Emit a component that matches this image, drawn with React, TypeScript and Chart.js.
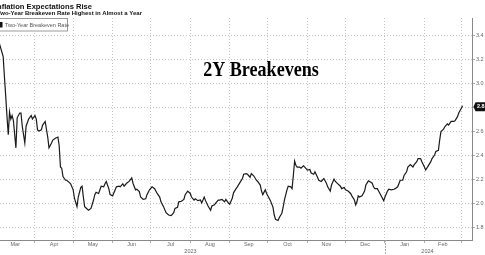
import React, { useEffect, useRef } from "react";
import { Chart, registerables } from "chart.js";

Chart.register(...registerables);

// Days since 2023-03-01
const DAYS = [3,6,7,8,9,10,11,12,13,14,16,17,19,20,21,23,24,26,28,29,31,32,33,34,36,37,39,41,42,44,45,47,49,50,51,52,53,55,56,58,59,61,62,64,65,67,68,69,70,73,75,77,78,79,81,83,85,86,87,89,90,92,94,95,97,98,100,101,103,105,107,108,110,111,113,114,116,118,119,121,123,125,127,129,130,132,134,136,138,140,141,143,144,146,148,149,151,153,154,156,157,159,161,162,164,165,167,169,170,172,173,175,176,178,180,181,183,184,186,187,189,190,192,194,195,197,198,200,201,203,205,206,208,209,210,212,213,215,216,218,219,220,222,223,225,226,227,229,230,232,233,234,235,236,237,239,240,242,243,245,247,248,250,251,253,254,256,258,260,261,263,264,266,267,269,271,272,274,275,277,279,280,282,283,284,285,286,288,290,291,293,294,296,297,298,300,301,303,305,306,308,309,311,313,314,316,318,320,321,323,324,326,328,329,331,332,334,335,337,338,340,342,343,345,346,348,349,350,352,353,355,356,358,360,361,363,364,366,367];

const VALUES = [3.33,3.22,3.05,2.89,2.72,2.57,2.76,2.70,2.73,2.69,2.46,2.71,2.75,2.75,2.64,2.50,2.64,2.70,2.73,2.70,2.73,2.70,2.61,2.60,2.61,2.65,2.68,2.55,2.46,2.50,2.525,2.54,2.55,2.48,2.30,2.29,2.22,2.19,2.19,2.17,2.16,2.11,2.04,1.97,2.05,2.13,2.14,2.05,1.97,1.94,1.955,2.025,2.07,2.09,2.08,2.14,2.135,2.16,2.18,2.12,2.07,2.06,2.11,2.135,2.14,2.135,2.16,2.14,2.165,2.18,2.21,2.165,2.11,2.115,2.095,2.05,2.03,2.035,2.07,2.11,2.135,2.12,2.08,2.05,2.01,1.97,1.92,1.90,1.895,1.92,1.955,1.965,2.01,2.015,2.03,2.07,2.10,2.08,2.05,2.025,2.035,2.02,2.025,2.00,2.05,2.02,1.975,1.94,1.975,1.985,2.00,2.025,2.025,2.03,2.01,2.03,2.00,1.99,2.04,2.085,2.12,2.135,2.17,2.205,2.24,2.245,2.24,2.215,2.245,2.225,2.19,2.18,2.15,2.10,2.07,2.11,2.08,2.04,2.02,1.965,1.90,1.865,1.855,1.88,1.915,1.965,2.025,2.11,2.14,2.135,2.12,2.23,2.35,2.315,2.30,2.30,2.29,2.31,2.30,2.275,2.28,2.25,2.24,2.26,2.215,2.19,2.18,2.205,2.165,2.135,2.10,2.15,2.20,2.18,2.16,2.14,2.12,2.13,2.11,2.10,2.08,2.06,2.025,1.985,2.01,2.06,2.05,2.06,2.10,2.15,2.185,2.18,2.165,2.135,2.12,2.12,2.10,2.06,2.02,2.05,2.10,2.115,2.11,2.115,2.12,2.135,2.19,2.19,2.23,2.26,2.30,2.32,2.30,2.32,2.345,2.37,2.37,2.345,2.30,2.275,2.31,2.345,2.37,2.40,2.43,2.44,2.525,2.595,2.615,2.635,2.66,2.65,2.68,2.68,2.685,2.72,2.75,2.79,2.81];

// Month boundaries (days since 2023-03-01): Apr 1 ... Mar 1 2024
const MONTH_STARTS = [31, 61, 92, 122, 153, 184, 214, 245, 275, 306, 337, 366];
const MONTH_LABELS = ["Mar", "Apr", "May", "Jun", "Jul", "Aug", "Sep", "Oct", "Nov", "Dec", "Jan", "Feb"];
const YEAR_LABELS = ["2023", "2024"];
const YEAR_BOUNDARY = 306;
const Y_TICKS = [1.8, 2.0, 2.2, 2.4, 2.6, 2.8, 3.0, 3.2, 3.4];

const TITLE = "Inflation Expectations Rise";
const SUBTITLE = "Two-Year Breakeven Rate Highest in Almost a Year";
const SERIES_NAME = "Two-Year Breakeven Rate";
const OVERLAY_TEXT = "2Y Breakevens";
const LAST_LABEL = "2.8";

const X_MIN = 3.5;
const X_MAX = 374.4;
const Y_MIN = 1.692;
const Y_MAX = 3.542;

const SANS = '"Liberation Sans", Arial, sans-serif';

const overlayPlugin = {
  id: "overlay",
  afterDraw(chart: any) {
    const ctx = chart.ctx as CanvasRenderingContext2D;
    const { left, right, bottom } = chart.chartArea;
    const xs = chart.scales.x;
    const ys = chart.scales.y;
    ctx.save();

    // Title & subtitle (cropped on the left like the reference)
    ctx.fillStyle = "#111";
    ctx.textAlign = "right";
    ctx.textBaseline = "alphabetic";
    ctx.font = `bold 7.6px ${SANS}`;
    ctx.fillText(TITLE, 92, 8.5);
    ctx.font = `bold 6px ${SANS}`;
    ctx.fillText(SUBTITLE, 142, 15);

    // Legend box
    ctx.fillStyle = "#fff";
    ctx.fillRect(-2, 18.5, 69.5, 12.5);
    ctx.strokeStyle = "#999";
    ctx.lineWidth = 1;
    ctx.strokeRect(-2, 18.5, 69.5, 12.5);
    ctx.fillStyle = "#111";
    ctx.fillRect(-2, 22, 4.5, 5.5);
    ctx.fillStyle = "#555";
    ctx.font = `5.5px ${SANS}`;
    ctx.textAlign = "left";
    ctx.textBaseline = "middle";
    ctx.fillText(SERIES_NAME, 5, 25);

    // Big overlay text (narrow serif)
    ctx.save();
    ctx.translate(261, 76);
    ctx.scale(0.86, 1);
    ctx.fillStyle = "#000";
    ctx.font = `bold 21px "Liberation Serif", "Times New Roman", serif`;
    ctx.textAlign = "center";
    ctx.textBaseline = "alphabetic";
    ctx.fillText(OVERLAY_TEXT, 0, 0);
    ctx.restore();

    // Year labels and separator
    const sepX = xs.getPixelForValue(YEAR_BOUNDARY);
    ctx.fillStyle = "#666";
    ctx.font = `5.5px ${SANS}`;
    ctx.textAlign = "center";
    ctx.textBaseline = "middle";
    ctx.fillText(YEAR_LABELS[0], (left + sepX) / 2 - 2, 251);
    ctx.fillText(YEAR_LABELS[1], (sepX + right) / 2 - 1, 251);
    ctx.strokeStyle = "#aaa";
    ctx.setLineDash([2, 1]);
    ctx.beginPath();
    ctx.moveTo(Math.round(sepX) + 0.5, bottom);
    ctx.lineTo(Math.round(sepX) + 0.5, 255);
    ctx.stroke();
    ctx.setLineDash([]);

    // Last value marker
    const lastY = ys.getPixelForValue(VALUES[VALUES.length - 1]);
    ctx.fillStyle = "#111";
    ctx.beginPath();
    const bx = right + 3.5, bw = 14, bh = 9;
    const by = lastY - bh / 2 + 1;
    ctx.moveTo(bx - 2, by + bh / 2);
    ctx.lineTo(bx, by);
    ctx.lineTo(bx + bw, by);
    ctx.lineTo(bx + bw, by + bh);
    ctx.lineTo(bx, by + bh);
    ctx.closePath();
    ctx.fill();
    ctx.fillStyle = "#fff";
    ctx.font = `bold 5.5px ${SANS}`;
    ctx.textAlign = "left";
    ctx.textBaseline = "middle";
    ctx.fillText(LAST_LABEL, bx + 1.5, by + bh / 2);

    ctx.restore();
  },
};

// Draw solid axis lines on top (border.dash is used for the dotted grid lines)
const axisLinePlugin = {
  id: "axisLines",
  afterDatasetsDraw(chart: any) {
    const ctx = chart.ctx as CanvasRenderingContext2D;
    const { left, right, top, bottom } = chart.chartArea;
    ctx.save();
    ctx.strokeStyle = "#8a8a8a";
    ctx.lineWidth = 1;
    ctx.setLineDash([]);
    ctx.beginPath();
    ctx.moveTo(left, Math.round(bottom) + 0.5);
    ctx.lineTo(right, Math.round(bottom) + 0.5);
    ctx.moveTo(Math.round(right) + 0.5, top);
    ctx.lineTo(Math.round(right) + 0.5, bottom + 1);
    ctx.stroke();
    ctx.restore();
  },
};

export default function App() {
  const ref = useRef<HTMLCanvasElement | null>(null);

  useEffect(() => {
    if (!ref.current) return;
    const bounds = [0, ...MONTH_STARTS];
    const mids = MONTH_LABELS.map((_, i) => (bounds[i] + bounds[i + 1]) / 2);
    const data = DAYS.map((d, i) => ({ x: d, y: VALUES[i] }));

    const gridOpts = {
      display: true,
      color: "#c4c4c4",
      lineWidth: 1,
      drawTicks: true,
      tickLength: 3,
      tickColor: "#aaa",
      tickBorderDash: [],
    };

    const chart = new Chart(ref.current, {
      type: "line",
      data: {
        datasets: [
          {
            label: SERIES_NAME,
            data,
            borderColor: "#1a1a1a",
            borderWidth: 1.2,
            pointRadius: 0,
            tension: 0,
            fill: false,
          },
        ],
      },
      options: {
        responsive: false,
        animation: false,
        events: [],
        layout: { padding: { top: 18, left: 0, right: 0, bottom: 0 } },
        plugins: {
          legend: { display: false },
          title: { display: false },
          tooltip: { enabled: false },
        },
        scales: {
          x: {
            type: "linear",
            position: "bottom",
            weight: 0,
            min: X_MIN,
            max: X_MAX,
            afterBuildTicks: (scale: any) => {
              scale.ticks = MONTH_STARTS.map((v) => ({ value: v }));
            },
            afterFit: (scale: any) => {
              scale.height = 0;
            },
            ticks: { display: false },
            grid: gridOpts,
            border: { display: false, dash: [1, 2] },
          },
          xm: {
            type: "linear",
            position: "bottom",
            weight: 1,
            min: X_MIN,
            max: X_MAX,
            afterBuildTicks: (scale: any) => {
              scale.ticks = mids.map((v) => ({ value: v }));
            },
            afterFit: (scale: any) => {
              scale.height = 15;
            },
            ticks: {
              autoSkip: false,
              maxRotation: 0,
              padding: 1,
              color: "#666",
              font: { size: 5.5, family: SANS },
              callback: (_v: any, i: number) => MONTH_LABELS[i],
            },
            grid: { display: false, drawTicks: false },
            border: { display: false },
          },
          y: {
            type: "linear",
            position: "right",
            min: Y_MIN,
            max: Y_MAX,
            afterBuildTicks: (scale: any) => {
              scale.ticks = Y_TICKS.map((v) => ({ value: v }));
            },
            afterFit: (scale: any) => {
              scale.width = 13;
            },
            ticks: {
              padding: 1,
              color: "#666",
              font: { size: 5.5, family: SANS },
              callback: (v: any) => Number(v).toFixed(1),
            },
            grid: gridOpts,
            border: { display: false, dash: [1, 2] },
          },
        },
      },
      plugins: [axisLinePlugin, overlayPlugin],
    } as any);

    return () => chart.destroy();
  }, []);

  return (
    <div style={{ position: "fixed", left: 0, top: 0, width: 485, height: 255, background: "#fff" }}>
      <canvas ref={ref} width={485} height={255} style={{ display: "block", width: 485, height: 255 }} />
    </div>
  );
}
